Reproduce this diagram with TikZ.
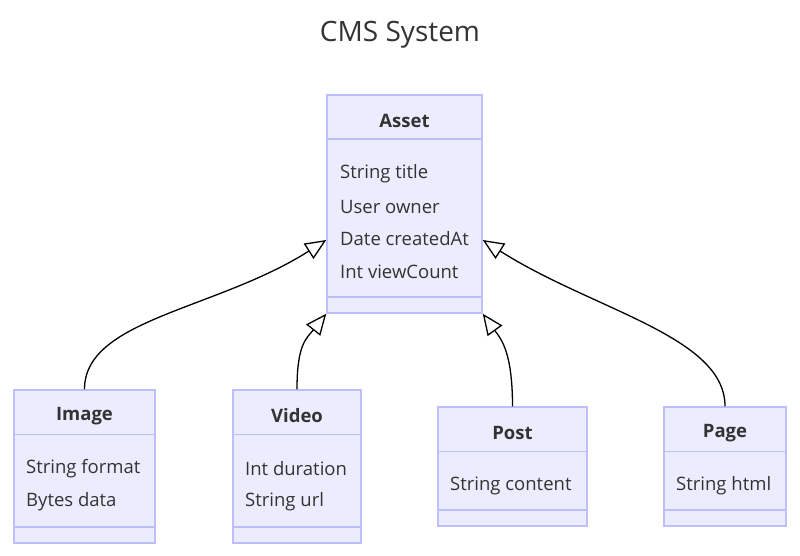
\documentclass[tikz,border=0pt]{standalone}
\usepackage{fontspec}
\setmainfont{Open Sans}
\usetikzlibrary{arrows.meta}
\definecolor{classfill}{HTML}{ECECFF}
\definecolor{classline}{RGB}{190,190,248}
\definecolor{textgray}{HTML}{333333}
\tikzstyle{classbox} = [rectangle, inner sep=0pt, draw=classline, fill=classfill, line width=1.5pt]
\tikzstyle{classname} = [inner sep=0pt, text=textgray, font=\fontsize{18.5}{22}\selectfont\bfseries]
\tikzstyle{attr} = [inner sep=0pt, anchor=west, text=textgray, font=\fontsize{18.5}{22}\selectfont]
\tikzstyle{divider} = [draw=classline, line width=1.5pt]
\tikzstyle{arrow} = [line width=1.3pt, -{Triangle[open, length=21pt, width=18pt]}]

\begin{document}
\begin{tikzpicture}[x=1pt, y=-1pt]
\useasboundingbox (0,0) rectangle (800,556);
% Title
\node (title) [text=textgray, font=\fontsize{28}{33}\selectfont] at (400,35) {CMS System};

% Define the classes
\node (asset) [classbox, minimum width=155pt, minimum height=218pt] at (404.5,204) {};
\node (image) [classbox, minimum width=141pt, minimum height=153pt] at (84.5,466.5) {};
\node (video) [classbox, minimum width=128pt, minimum height=153pt] at (297,466.5) {};
\node (post) [classbox, minimum width=149pt, minimum height=119pt] at (512.5,466.5) {};
\node (page) [classbox, minimum width=122pt, minimum height=119pt] at (725,466.5) {};

% Section lines
\draw [divider] ([yshift=-45pt]asset.north west) -- ([yshift=-45pt]asset.north east);
\draw [divider] ([yshift=17pt]asset.south west) -- ([yshift=17pt]asset.south east);
\draw [divider] ([yshift=-45pt]image.north west) -- ([yshift=-45pt]image.north east);
\draw [divider] ([yshift=17pt]image.south west) -- ([yshift=17pt]image.south east);
\draw [divider] ([yshift=-45pt]video.north west) -- ([yshift=-45pt]video.north east);
\draw [divider] ([yshift=17pt]video.south west) -- ([yshift=17pt]video.south east);
\draw [divider] ([yshift=-45pt]post.north west) -- ([yshift=-45pt]post.north east);
\draw [divider] ([yshift=17pt]post.south west) -- ([yshift=17pt]post.south east);
\draw [divider] ([yshift=-45pt]page.north west) -- ([yshift=-45pt]page.north east);
\draw [divider] ([yshift=17pt]page.south west) -- ([yshift=17pt]page.south east);

% Class names
\node (assetname) [classname] at (404.5,121) {Asset};
\node (imagename) [classname] at (84.5,416) {Image};
\node (videoname) [classname] at (297,416) {Video};
\node (postname) [classname] at (512.5,433) {Post};
\node (pagename) [classname] at (725,433) {Page};

% Attributes
\node (a1) [attr] at (340,174) {String title};
\node (a2) [attr] at (340,206.5) {User owner};
\node (a3) [attr] at (340,239) {Date createdAt};
\node (a4) [attr] at (340,271.5) {Int viewCount};
\node (i1) [attr] at (26,469) {String format};
\node (i2) [attr] at (26,501.5) {Bytes data};
\node (v1) [attr] at (245,469) {Int duration};
\node (v2) [attr] at (245,501.5) {String url};
\node (p1) [attr] at (450,486) {String content};
\node (g1) [attr] at (676,486) {String html};

% Draw the arrows
\draw [arrow] (image.north) .. controls +(0,-70) and +(-110,70) .. ([yshift=-36pt]asset.west);
\draw [arrow] (video.north) .. controls +(0,-45) and +(-20,25) .. (asset.south west);
\draw [arrow] (post.north) .. controls +(0,-55) and +(18,25) .. (asset.south east);
\draw [arrow] (page.north) .. controls +(0,-70) and +(110,70) .. ([yshift=-36pt]asset.east);
\end{tikzpicture}
\end{document}
